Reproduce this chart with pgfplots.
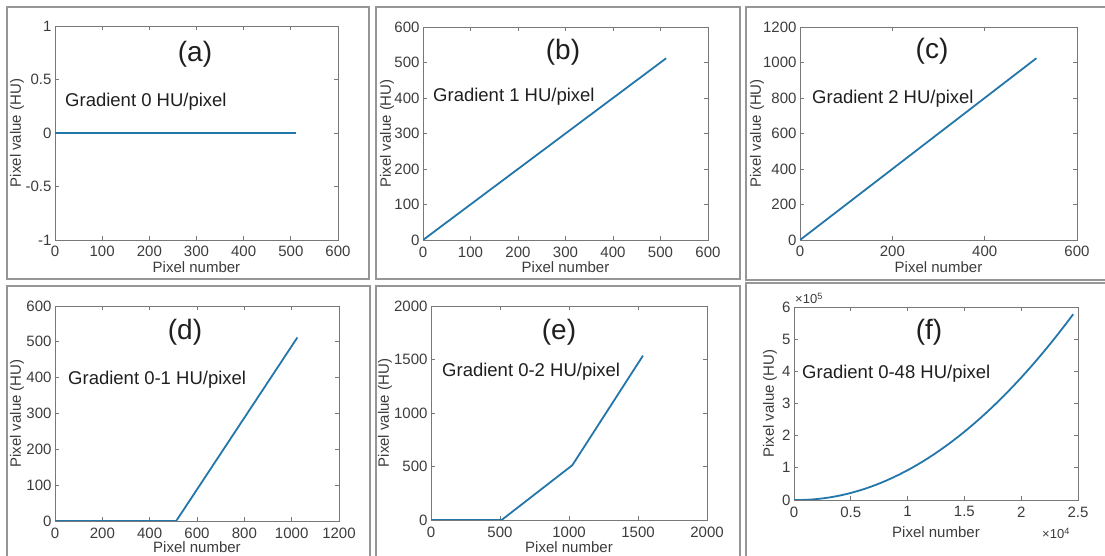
\documentclass[border=0pt]{standalone}
\usepackage{fontspec}
\setmainfont{Liberation Sans}
\usepackage{pgfplots}
\pgfplotsset{compat=1.18}
\definecolor{mblue}{RGB}{35,118,170}
\definecolor{framegray}{RGB}{150,150,150}
\definecolor{axgray}{RGB}{120,120,120}
\definecolor{tickgray}{RGB}{60,60,60}
\pgfplotsset{
  mystyle/.style={
    scale only axis,
    anchor=south west,
    axis line style={axgray, line width=0.9pt},
    major tick style={axgray, line width=0.8pt},
    major tick length=4pt,
    tick align=inside,
    xtick pos=both, ytick pos=both,
    tick label style={tickgray, font=\fontsize{15}{18}\selectfont},
    xticklabel style={yshift=-3pt},
    label style={tickgray, font=\fontsize{15}{18}\selectfont},
    /pgf/number format/assume math mode=true,
    /pgf/number format/1000 sep={},
    scaled ticks=false,
    xlabel={Pixel number},
    ylabel={Pixel value (HU)},
  },
  myline/.style={color=mblue, line width=1.8pt, mark=none},
}
\begin{document}
\begin{tikzpicture}[x=1pt,y=1pt]
\useasboundingbox (0,0) rectangle (1105,556);
% panel frames
\begin{scope}
\clip (0,0) rectangle (1105,556);
\draw[framegray, line width=1.5pt] (7,549) rectangle (369,277);
\draw[framegray, line width=1.5pt] (376,549) rectangle (740,277);
\draw[framegray, line width=1.5pt] (746,549) rectangle (1115,276);
\draw[framegray, line width=1.5pt] (7,270) rectangle (370,-10);
\draw[framegray, line width=1.5pt] (376,270) rectangle (740,-10);
\draw[framegray, line width=1.5pt] (746,273) rectangle (1115,-10);
\end{scope}

% (a)
\begin{axis}[mystyle, at={(55pt,316pt)}, width=283pt, height=214pt,
  xmin=0, xmax=600, ymin=-1, ymax=1,
  xtick={0,100,...,600},
  ytick={-1,-0.5,0,0.5,1}, yticklabels={-1,-0.5,0,0.5,1},
  ylabel style={at={(axis description cs:-0.134,0.5)}, anchor=center},
  xlabel style={at={(axis description cs:0.5,-0.126)}, anchor=center}]
\addplot[myline] coordinates {(0,0) (512,0)};
\end{axis}

% (b)
\begin{axis}[mystyle, at={(423pt,316pt)}, width=285pt, height=213pt,
  xmin=0, xmax=600, ymin=0, ymax=600,
  xtick={0,100,...,600}, ytick={0,100,...,600},
  ylabel style={at={(axis description cs:-0.126,0.5)}, anchor=center},
  xlabel style={at={(axis description cs:0.5,-0.127)}, anchor=center}]
\addplot[myline] coordinates {(0,0) (512,512)};
\end{axis}

% (c)
\begin{axis}[mystyle, at={(800pt,316pt)}, width=277pt, height=213pt,
  xmin=0, xmax=600, ymin=0, ymax=1200,
  xtick={0,200,400,600}, ytick={0,200,...,1200},
  ylabel style={at={(axis description cs:-0.155,0.5)}, anchor=center},
  xlabel style={at={(axis description cs:0.5,-0.127)}, anchor=center}]
\addplot[myline] coordinates {(0,0) (512,1024)};
\end{axis}

% (d)
\begin{axis}[mystyle, at={(55pt,35pt)}, width=284pt, height=215pt,
  xmin=0, xmax=1200, ymin=0, ymax=600,
  xtick={0,200,...,1200}, ytick={0,100,...,600},
  ylabel style={at={(axis description cs:-0.134,0.5)}, anchor=center},
  xlabel style={at={(axis description cs:0.5,-0.121)}, anchor=center}]
\addplot[myline] coordinates {(0,0) (512,0) (1024,512)};
\end{axis}

% (e)
\begin{axis}[mystyle, at={(431pt,36pt)}, width=276pt, height=214pt,
  xmin=0, xmax=2000, ymin=0, ymax=2000,
  xtick={0,500,...,2000}, ytick={0,500,...,2000},
  ylabel style={at={(axis description cs:-0.167,0.5)}, anchor=center},
  xlabel style={at={(axis description cs:0.5,-0.126)}, anchor=center}]
\addplot[myline] coordinates {(0,0) (512,0) (1024,512) (1536,1536)};
\end{axis}

% (f)
\begin{axis}[mystyle, at={(794pt,56pt)}, width=284pt, height=193pt,
  xmin=0, xmax=25000, ymin=0, ymax=600000,
  xtick={0,5000,10000,15000,20000,25000}, xticklabels={0,0.5,1,1.5,2,2.5},
  ytick={0,100000,200000,300000,400000,500000,600000}, yticklabels={0,1,2,3,4,5,6},
  ylabel style={at={(axis description cs:-0.085,0.5)}, anchor=center},
  xlabel style={at={(axis description cs:0.5,-0.166)}, anchor=center}]
\addplot[myline] table {
x y
0 0
512 0
1024 512
1536 1536
2048 3072
2560 5120
3072 7680
3584 10752
4096 14336
4608 18432
5120 23040
5632 28160
6144 33792
6656 39936
7168 46592
7680 53760
8192 61440
8704 69632
9216 78336
9728 87552
10240 97280
10752 107520
11264 118272
11776 129536
12288 141312
12800 153600
13312 166400
13824 179712
14336 193536
14848 207872
15360 222720
15872 238080
16384 253952
16896 270336
17408 287232
17920 304640
18432 322560
18944 340992
19456 359936
19968 379392
20480 399360
20992 419840
21504 440832
22016 462336
22528 484352
23040 506880
23552 529920
24064 553472
24576 577536
};
\end{axis}

% panel titles and annotations
\begin{scope}[every node/.style={inner sep=0pt, text=black!88}]
\node[anchor=base, font=\fontsize{28}{32}\selectfont] at (195,494) {(a)};
\node[anchor=base, font=\fontsize{28}{32}\selectfont] at (563,496) {(b)};
\node[anchor=base, font=\fontsize{28}{32}\selectfont] at (932,497) {(c)};
\node[anchor=base, font=\fontsize{28}{32}\selectfont] at (185,216) {(d)};
\node[anchor=base, font=\fontsize{28}{32}\selectfont] at (559,216) {(e)};
\node[anchor=base, font=\fontsize{28}{32}\selectfont] at (929,216) {(f)};
\node[anchor=base west, font=\fontsize{18.5}{22}\selectfont] at (65,449) {Gradient 0 HU/pixel};
\node[anchor=base west, font=\fontsize{18.5}{22}\selectfont] at (433,454) {Gradient 1 HU/pixel};
\node[anchor=base west, font=\fontsize{18.5}{22}\selectfont] at (812,452) {Gradient 2 HU/pixel};
\node[anchor=base west, font=\fontsize{18.5}{22}\selectfont] at (68,171) {Gradient 0-1 HU/pixel};
\node[anchor=base west, font=\fontsize{18.5}{22}\selectfont] at (442,179) {Gradient 0-2 HU/pixel};
\node[anchor=base west, font=\fontsize{18.5}{22}\selectfont] at (802,177) {Gradient 0-48 HU/pixel};
\node[anchor=base west, text=tickgray, font=\fontsize{13}{15}\selectfont] at (795,252) {×10\textsuperscript{5}};
\node[anchor=base east, text=tickgray, font=\fontsize{13}{15}\selectfont] at (1070,17) {×10\textsuperscript{4}};
\end{scope}
\end{tikzpicture}
\end{document}
